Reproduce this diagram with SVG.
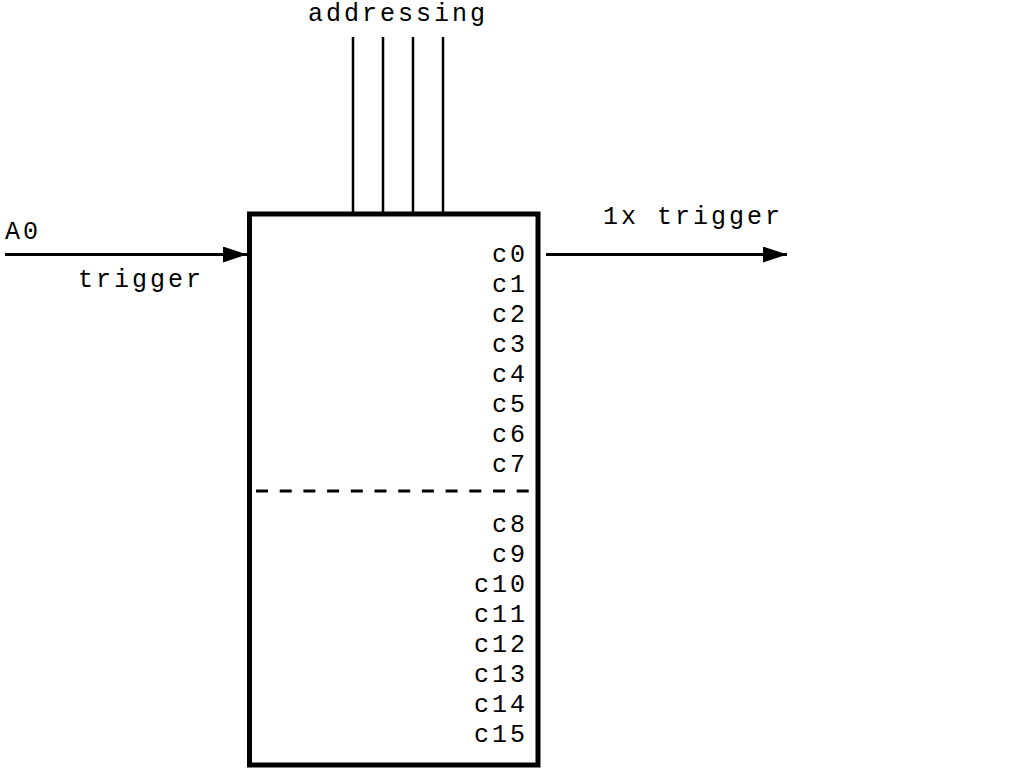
<svg xmlns="http://www.w3.org/2000/svg" width="1020" height="769" viewBox="0 0 1020 769">
<style>
text{font-family:"Liberation Mono","Courier New",monospace;font-size:25px;letter-spacing:3px;fill:#000}
.c{text-anchor:end}
.w{stroke:#000;stroke-width:3;fill:none}
.a{stroke:#000;stroke-width:2.5;fill:none}
</style>
<defs>
<marker id="ah" markerUnits="userSpaceOnUse" markerWidth="26" markerHeight="16" refX="24" refY="8" orient="auto">
<path d="M0,0 L24,8 L0,16 Z" fill="#000"/>
</marker>
</defs>
<rect width="1020" height="769" fill="#fff"/>
<g id="connectors">
<line class="w" x1="5" y1="254.5" x2="247" y2="254.5" marker-end="url(#ah)"/>
<line class="w" x1="546" y1="254.5" x2="787" y2="254.5" marker-end="url(#ah)"/>
<line class="a" x1="353" y1="37" x2="353" y2="214"/>
<line class="a" x1="383" y1="37" x2="383" y2="214"/>
<line class="a" x1="413" y1="37" x2="413" y2="214"/>
<line class="a" x1="443" y1="37" x2="443" y2="214"/>
</g>
<g id="labels">
<text x="308" y="21">addressing</text>
<text x="5" y="239">A0</text>
<text x="78" y="287">trigger</text>
<text x="603" y="224">1x trigger</text>
</g>
<g id="block">
<rect x="249.5" y="214" width="288.5" height="551" fill="none" stroke="#000" stroke-width="5"/>
<line x1="256" y1="491" x2="533" y2="491" stroke="#000" stroke-width="3" stroke-dasharray="12,11.7"/>
<text class="c" x="528" y="262">c0</text>
<text class="c" x="528" y="292">c1</text>
<text class="c" x="528" y="322">c2</text>
<text class="c" x="528" y="352">c3</text>
<text class="c" x="528" y="382">c4</text>
<text class="c" x="528" y="412">c5</text>
<text class="c" x="528" y="442">c6</text>
<text class="c" x="528" y="472">c7</text>
<text class="c" x="528" y="532">c8</text>
<text class="c" x="528" y="562">c9</text>
<text class="c" x="528" y="592">c10</text>
<text class="c" x="528" y="622">c11</text>
<text class="c" x="528" y="652">c12</text>
<text class="c" x="528" y="682">c13</text>
<text class="c" x="528" y="712">c14</text>
<text class="c" x="528" y="742">c15</text>
</g>
</svg>
